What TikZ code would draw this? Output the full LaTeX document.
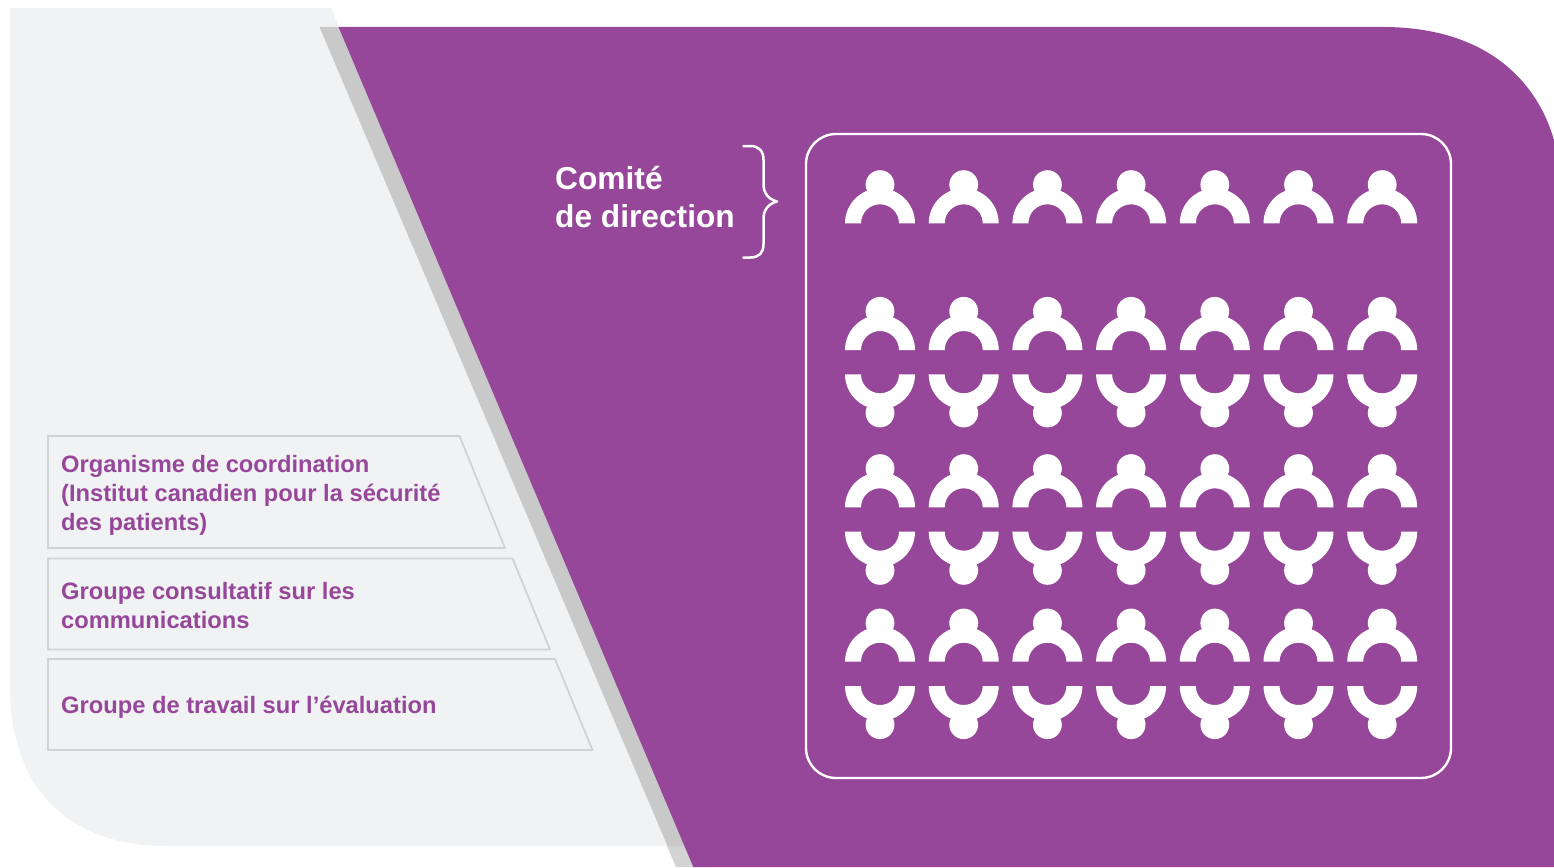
\documentclass[tikz,border=0pt]{standalone}
\usepackage{fontspec}
\setmainfont{Liberation Sans}
\definecolor{purp}{HTML}{964799}
\definecolor{lightbg}{HTML}{F1F2F4}
\definecolor{bandgray}{HTML}{C9C9C9}
\definecolor{bandlow}{HTML}{D3D3D3}
\definecolor{rulegray}{HTML}{D0D1D3}
\tikzset{
  x=1pt,y=-1pt,
  trap/.style={draw=rulegray,line width=1.7pt,line join=miter},
  lab/.style={text=purp,font=\bfseries\fontsize{23.7}{29}\selectfont,align=left,inner sep=0pt,anchor=north west},
  head/.style={text=white,font=\bfseries\fontsize{31.7}{38}\selectfont,align=left,inner sep=0pt,anchor=north west},
  person/.pic={
    \fill[white] (0,-38.7) circle[radius=14.4];
    \fill[white] (-35,0) arc[start angle=180,end angle=0,x radius=35,y radius=-35] -- (19,0)
      arc[start angle=0,end angle=180,x radius=19,y radius=-19] -- cycle;
  },
}
\begin{document}
\begin{tikzpicture}
\useasboundingbox (0,0) rectangle (1554,867);
\fill[white] (0,0) rectangle (1554,867);
% light panel
\fill[lightbg] (10,8) -- (331,8) -- (345,42) -- (677,846) -- (167,846)
  .. controls (70,846) and (10,790) .. (10,686) -- cycle;
% shadow band
\fill[bandlow] (667,846) -- (676,867) -- (694,867) -- (685,846) -- cycle;
\fill[bandgray] (319.5,27) -- (338.5,27) -- (685,846) -- (667.5,846) -- cycle;
% purple panel
\fill[purp] (338.5,27) -- (1383,27) .. controls (1480,27) and (1535,75) .. (1554,140)
  -- (1554,867) -- (693.3,867) -- cycle;
% trapezoids
\draw[trap] (48,436) -- (459.5,436) -- (505,548) -- (48,548) -- cycle;
\draw[trap] (48,558.5) -- (512.5,558.5) -- (550,649.5) -- (48,649.5) -- cycle;
\draw[trap] (48,659) -- (555,659) -- (592.5,750) -- (48,750) -- cycle;
\node[lab] (l1) at (61,455) {Organisme de coordination\\(Institut canadien pour la sécurité\\des patients)};
\node[lab] (l2) at (61,582) {Groupe consultatif sur les\\communications};
\node[lab] (l3) at (61,696) {Groupe de travail sur l’évaluation};
% heading and brace
\node[head] (h) at (555,166) {Comité\\de direction};
\draw[white,line width=2.5pt,line join=round] (742.5,146) -- (750,146) .. controls (759,146) and (763.5,151) .. (763.5,160)
  -- (763.5,184) .. controls (763.5,193) and (768,199) .. (777,201.5)
  .. controls (768,204) and (763.5,210) .. (763.5,219) -- (763.5,244)
  .. controls (763.5,253) and (759,257.5) .. (750,257.5) -- (742.5,257.5);
% frame
\draw[white,line width=2.4pt,rounded corners=30pt] (806,134) rectangle (1451,778);
% people
\foreach \c in {0,...,6}{
  \pgfmathsetmacro{\px}{880+83.7*\c}
  \foreach \yy in {223.3,350,507.3,661.7}{
    \pic at (\px,\yy) {person};
  }
  \foreach \yy in {374.3,531.7,686}{
    \pic[yscale=-1] at (\px,\yy) {person};
  }
}
\end{tikzpicture}
\end{document}
